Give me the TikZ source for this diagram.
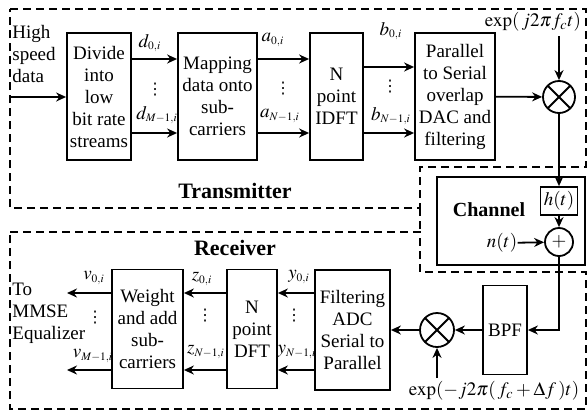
\documentclass[tikz,border=0pt]{standalone}
\usepackage{mathptmx}
\usepackage{fontspec}
\setmainfont{Liberation Serif}
\newfontfamily\dejavu{DejaVu Sans}
\usetikzlibrary{arrows.meta,positioning,calc}
\newcommand{\ix}[1]{{\scriptscriptstyle #1}}
\newcommand{\fdots}{{\dejavu ⋮}}
\tikzset{
  blokk/.style={draw,line width=0.9pt,align=center,inner sep=1pt},
  kor/.style={draw,line width=0.9pt,circle,inner sep=0pt},
  szorzo/.style={kor,path picture={\draw[line width=0.9pt]
      (path picture bounding box.south west) -- (path picture bounding box.north east)
      (path picture bounding box.north west) -- (path picture bounding box.south east);}},
  nyil/.style={-{Stealth[length=5pt,width=4.5pt]},line width=0.9pt},
  keret/.style={dash pattern=on 4pt off 2.5pt,line width=0.7pt},
  cimke/.style={inner sep=0pt},
  pontok/.style={inner sep=0pt,font=\fontsize{8}{8}\selectfont},
  fejlec/.style={font=\fontsize{11}{13}\selectfont\bfseries},
}

\begin{document}
\begin{tikzpicture}[x=0.5pt,y=-0.5pt,font=\fontsize{9.5}{11}\selectfont]
  \useasboundingbox (0,0) rectangle (587,412);
  % keretek
  \draw[keret] (10,9) -- (586,9) -- (586,167) -- (420,167) -- (420,208) -- (10,208) -- cycle;
  \draw[keret] (10,232) -- (420,232) -- (420,272) -- (586,272) -- (586,409) -- (10,409) -- cycle;
  \draw[keret] (420,208) -- (420,232);
  \draw[line width=0.9pt] (437,177) rectangle (585,265);
  \node[fejlec] (ado) at (235,191) {Transmitter};
  \node[fejlec] (vevo) at (235,248) {Receiver};
  \node[font=\fontsize{10}{12}\selectfont\bfseries] (csatnev) at (489,210) {Channel};

  % sorok
  \coordinate (tf) at (0,59);
  \coordinate (tf2) at (0,67);
  \coordinate (ta) at (0,133);
  \coordinate (rf) at (0,293);
  \coordinate (ra) at (0,370);

  % ado
  \node[cimke,align=left,anchor=west] (bemenet) at (12,54) {High\\speed\\data};
  \coordinate (be) at (10,97);
  \node[blokk,minimum width=32pt,minimum height=63.5pt] (oszt) at (99,96.5) {Divide\\into\\low\\bit rate\\streams};
  \node[blokk,minimum width=39.5pt,minimum height=63.5pt] (lekep) at (217.5,96.5) {Mapping\\data onto\\sub-\\carriers};
  \node[blokk,minimum width=26.5pt,minimum height=63.5pt] (idft) at (336.5,96.5) {N\\point\\IDFT};
  \node[blokk,minimum width=40pt,minimum height=63.5pt] (ps) at (455,96.5) {Parallel\\to Serial\\overlap\\DAC and\\filtering};
  \node[szorzo,minimum size=16pt] (m1) at (559,97) {};
  \node[cimke] (vivo) at (533,22) {$\exp(\,j2\pi f_{c}t)$};
  \coordinate (vivole) at (559,36);

  \draw[nyil] (be) -- (oszt.west |- be);
  \draw[nyil] (oszt.east |- tf) -- (lekep.west |- tf);
  \draw[nyil] (oszt.east |- ta) -- (lekep.west |- ta);
  \draw[nyil] (lekep.east |- tf) -- (idft.west |- tf);
  \draw[nyil] (lekep.east |- ta) -- (idft.west |- ta);
  \draw[nyil] (idft.east |- tf2) -- (ps.west |- tf2);
  \draw[nyil] (idft.east |- ta) -- (ps.west |- ta);
  \draw[nyil] (ps) -- (m1);
  \draw[nyil] (vivole) -- (m1);

  \node[cimke] (d0) at (150,43) {$d_{\ix{0,i}}$};
  \node[pontok] (dv) at (155,90) {\fdots};
  \node[cimke] (dm) at (157,115) {$d_{\ix{M-1,i}}$};
  \node[cimke] (a0) at (273,40) {$a_{\ix{0,i}}$};
  \node[pontok] (av) at (283,89) {\fdots};
  \node[cimke] (an) at (280,116) {$a_{\ix{N-1,i}}$};
  \node[pontok] (bv) at (390,87) {\fdots};
  \node[cimke] (b0) at (391,31) {$b_{\ix{0,i}}$};
  \node[cimke] (bn) at (391,116) {$b_{\ix{N-1,i}}$};

  % csatorna
  \node[blokk,minimum width=18.5pt,minimum height=14pt] (h) at (559,201) {$h(t)$};
  \node[kor,minimum size=14pt] (plusz) at (559,242) {$+$};
  \node[cimke] (zaj) at (502,243) {$n(t)$};
  \draw[nyil] (m1) -- (h);
  \draw[nyil] (h) -- (plusz);
  \draw[nyil] (zaj) -- (plusz);

  % vevo
  \node[blokk,minimum width=22pt,minimum height=44.5pt] (bpf) at (505,330) {BPF};
  \node[szorzo,minimum size=17pt] (m2) at (437,330) {};
  \node[cimke] (lo) at (494,391) {$\exp(-j2\pi(\,f_{c}+\Delta f\,)t)$};
  \coordinate (lofel) at (437,378);
  \node[blokk,minimum width=37.5pt,minimum height=60pt] (adc) at (352.5,330) {Filtering\\ADC\\Serial to\\Parallel};
  \node[blokk,minimum width=25pt,minimum height=59.5pt] (dft) at (252,329) {N\\point\\DFT};
  \node[blokk,minimum width=35.5pt,minimum height=59.5pt] (suly) at (147.5,329) {Weight\\and add\\sub-\\carriers};
  \node[cimke,align=left,anchor=west] (kimenet) at (12,313) {To\\MMSE\\Equalizer};
  \coordinate (kif) at (67,293);
  \coordinate (kia) at (67,370);

  \draw[nyil] (plusz) |- (bpf);
  \draw[nyil] (bpf) -- (m2);
  \draw[nyil] (lofel) -- (m2);
  \draw[nyil] (m2) -- (m2 -| adc.east);
  \draw[nyil] (adc.west |- rf) -- (dft.east |- rf);
  \draw[nyil] (adc.west |- ra) -- (dft.east |- ra);
  \draw[nyil] (dft.west |- rf) -- (suly.east |- rf);
  \draw[nyil] (dft.west |- ra) -- (suly.east |- ra);
  \draw[nyil] (suly.west |- rf) -- (kif);
  \draw[nyil] (suly.west |- ra) -- (kia);

  \node[cimke] (v0) at (94,278) {$v_{\ix{0,i}}$};
  \node[pontok] (vv) at (95,318) {\fdots};
  \node[cimke] (vm) at (93,356) {$v_{\ix{M-1,i}}$};
  \node[cimke] (z0) at (202,279) {$z_{\ix{0,i}}$};
  \node[pontok] (zv) at (205,316) {\fdots};
  \node[cimke] (zn) at (206,352) {$z_{\ix{N-1,i}}$};
  \node[cimke] (y0) at (299,277) {$y_{\ix{0,i}}$};
  \node[pontok] (yv) at (294,316) {\fdots};
  \node[cimke] (yn) at (297,352) {$y_{\ix{N-1,i}}$};
\end{tikzpicture}
\end{document}
